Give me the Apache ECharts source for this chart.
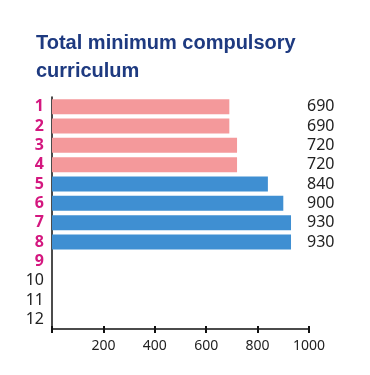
<!DOCTYPE html>
<html><head><meta charset="utf-8">
<script src="https://cdn.jsdelivr.net/npm/echarts@6/dist/echarts.min.js"></script>
<style>html,body{margin:0;padding:0;background:#fff}#c{width:370px;height:375px}</style>
</head><body><div id="c"></div>
<script>
var categories = ['1','2','3','4','5','6','7','8','9','10','11','12'];
var values = [690, 690, 720, 720, 840, 900, 930, 930, null, null, null, null];
var groups = ['a','a','a','a','b','b','b','b','','','',''];
var highlighted = [true, true, true, true, true, true, true, true, true, false, false, false];
var xTicks = [200, 400, 600, 800, 1000];
var titleText = 'Total minimum compulsory\ncurriculum';

var groupColor = {a: '#F4999B', b: '#3F8FD2'};
var chart = echarts.init(document.getElementById('c'), null, {renderer: 'canvas'});
var xBase = {
  type: 'value', min: 0, max: 1000, interval: 200,
  splitLine: {show: false}
};
chart.setOption({
  animation: false,
  title: {
    text: titleText, left: 36, top: 29, padding: 0,
    textStyle: {fontFamily: 'Liberation Sans, Arial', fontWeight: 'bold', fontSize: 20, color: '#1E3A80', lineHeight: 28}
  },
  grid: {left: 52, right: 61, top: 97, bottom: 46, containLabel: false},
  xAxis: [
    Object.assign({}, xBase, {
      position: 'bottom',
      axisLine: {show: true, lineStyle: {color: '#111', width: 1.5}},
      axisTick: {show: true, length: 4, lineStyle: {color: '#111', width: 2}},
      axisLabel: {
        margin: 10, color: '#222', fontSize: 14, fontFamily: 'Liberation Sans Narrow, Noto Sans',
        formatter: function (v) { return xTicks.indexOf(v) >= 0 ? String(v) : ''; }
      }
    }),
    Object.assign({}, xBase, {
      position: 'bottom',
      axisLine: {show: false},
      axisTick: {show: true, inside: true, length: 3, lineStyle: {color: '#111', width: 2}},
      axisLabel: {show: false}
    })
  ],
  yAxis: [
    {
      type: 'category', data: categories, inverse: true,
      axisLine: {show: true, lineStyle: {color: '#111', width: 1.5}},
      axisTick: {show: false},
      axisLabel: {
        interval: 0, margin: 8, fontSize: 16, fontFamily: 'Noto Sans',
        formatter: function (v, i) { return highlighted[i] ? '{m|' + v + '}' : '{g|' + v + '}'; },
        rich: {
          m: {color: '#D4177F', fontWeight: 'bold', fontSize: 16, fontFamily: 'Noto Sans'},
          g: {color: '#222', fontSize: 16, fontFamily: 'Noto Sans'}
        }
      }
    },
    {
      type: 'category', data: categories, inverse: true, position: 'right',
      axisLine: {show: false}, axisTick: {show: false},
      axisLabel: {
        interval: 0, margin: -2, color: '#222', fontSize: 16, fontFamily: 'Noto Sans',
        formatter: function (v, i) { return values[i] != null ? String(values[i]) : ''; }
      }
    }
  ],
  series: [{
    type: 'bar', xAxisIndex: 0, yAxisIndex: 0, barWidth: 15,
    data: values.map(function (v, i) {
      return {value: v, itemStyle: {color: groupColor[groups[i]] || '#ccc'}};
    })
  }]
});
</script></body></html>
